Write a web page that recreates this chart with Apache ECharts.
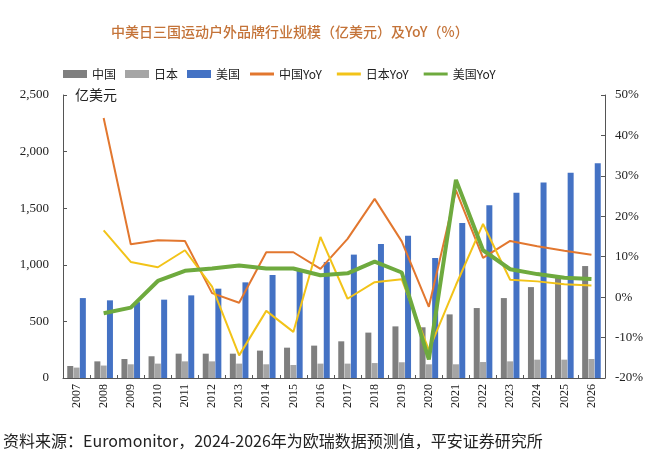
<!DOCTYPE html>
<html>
<head>
<meta charset="utf-8">
<script src="https://cdn.jsdelivr.net/npm/echarts@6/dist/echarts.min.js"></script>
<style>
html,body{margin:0;padding:0;background:#fff;}
#c{width:660px;height:463px;}
</style>
</head>
<body>
<div id="c"></div>
<script>
const years = ['2007','2008','2009','2010','2011','2012','2013','2014','2015','2016','2017','2018','2019','2020','2021','2022','2023','2024','2025','2026'];
const chinaSize = [106,147,168,192,215,215,215,242,268,286,324,401,456,448,562,618,706,803,892,989];
const japanSize = [92,110,121,127,147,147,127,121,115,127,127,132,139,121,121,141,147,162,162,168];
const usSize = [706,686,670,692,730,789,845,910,951,1024,1090,1183,1257,1060,1369,1525,1637,1728,1814,1896];
const chinaYoY = [null,44.3,13.1,14.1,13.9,1.0,-1.4,11.1,11.1,7.0,14.4,24.3,13.8,-2.4,26.4,9.7,13.9,12.6,11.5,10.5];
const japanYoY = [null,16.5,8.7,7.4,11.6,2.6,-14.4,-3.4,-8.6,14.9,-0.4,3.7,4.4,-13.1,3.0,18.1,4.3,3.9,3.2,2.9];
const usYoY = [null,-4.0,-2.6,4.0,6.5,7.1,7.8,7.1,7.1,5.4,5.9,8.8,6.1,-15.4,29.0,11.6,6.9,5.7,4.8,4.5];
const leftTicks = {min:0,max:2500,interval:500};
const rightTicks = {min:-20,max:50,interval:10};

const serif = 'Liberation Serif';
const cjk = 'Noto Sans CJK SC';
const chart = echarts.init(document.getElementById('c'));
chart.setOption({
  animation:false,
  backgroundColor:'#fff',
  title:{
    text:'中美日三国运动户外品牌行业规模（亿美元）及YoY（%）',
    left:106, top:20,
    textStyle:{fontFamily:cjk,fontSize:14,fontWeight:500,color:'#C47338'}
  },
  legend:[
    {
      left:58, top:63,
      itemWidth:24, itemHeight:8, itemGap:9,
      icon:'rect',
      textStyle:{fontFamily:cjk,fontSize:12,color:'#222'},
      data:['中国','日本','美国']
    },
    {
      left:245, top:63,
      itemWidth:24, itemHeight:3, itemGap:15,
      icon:'rect',
      textStyle:{fontFamily:cjk,fontSize:12,color:'#222'},
      data:['中国YoY','日本YoY','美国YoY']
    }
  ],
  grid:{left:63,right:55,top:95,bottom:85},
  xAxis:{
    type:'category',
    data:years,
    axisLine:{lineStyle:{color:'#555',width:1}},
    axisTick:{show:true,inside:true,length:3,lineStyle:{color:'#555'}},
    axisLabel:{rotate:90,fontFamily:serif,fontSize:12,color:'#222',margin:6}
  },
  yAxis:[
    {
      type:'value',
      min:leftTicks.min,max:leftTicks.max,interval:leftTicks.interval,
      splitLine:{show:false},
      axisLine:{show:true,lineStyle:{color:'#555'}},
      axisTick:{show:true,inside:true,length:4,lineStyle:{color:'#555'}},
      axisLabel:{fontFamily:serif,fontSize:13,color:'#222',margin:14,
        formatter:v=>v.toLocaleString('en-US')}
    },
    {
      type:'value',
      min:rightTicks.min,max:rightTicks.max,interval:rightTicks.interval,
      splitLine:{show:false},
      axisLine:{show:true,lineStyle:{color:'#555'}},
      axisTick:{show:true,inside:true,length:4,lineStyle:{color:'#555'}},
      axisLabel:{fontFamily:serif,fontSize:13,color:'#222',margin:10,
        formatter:'{value}%'}
    }
  ],
  graphic:[
    {type:'text',left:75,top:88,style:{text:'亿美元',font:'14px "Noto Sans CJK SC"',fill:'#222'}},
    {type:'text',left:3,top:433,style:{text:'资料来源：Euromonitor，2024-2026年为欧瑞数据预测值，平安证券研究所',font:'16px "Noto Sans CJK SC"',fill:'#222'}}
  ],
  series:[
    {name:'中国',type:'bar',data:chinaSize,barWidth:6,barGap:'5%',itemStyle:{color:'#7F7F7F'}},
    {name:'日本',type:'bar',data:japanSize,barWidth:6,barGap:'5%',itemStyle:{color:'#A5A5A5'}},
    {name:'美国',type:'bar',data:usSize,barWidth:6,barGap:'5%',itemStyle:{color:'#4472C4'}},
    {name:'中国YoY',type:'line',yAxisIndex:1,data:chinaYoY,symbol:'none',itemStyle:{color:'#E2772F'},lineStyle:{color:'#E2772F',width:2}},
    {name:'日本YoY',type:'line',yAxisIndex:1,data:japanYoY,symbol:'none',itemStyle:{color:'#F2C318'},lineStyle:{color:'#F2C318',width:2}},
    {name:'美国YoY',type:'line',yAxisIndex:1,data:usYoY,symbol:'none',itemStyle:{color:'#6EAA3E'},lineStyle:{color:'#6EAA3E',width:4}}
  ]
});
</script>
</body>
</html>
